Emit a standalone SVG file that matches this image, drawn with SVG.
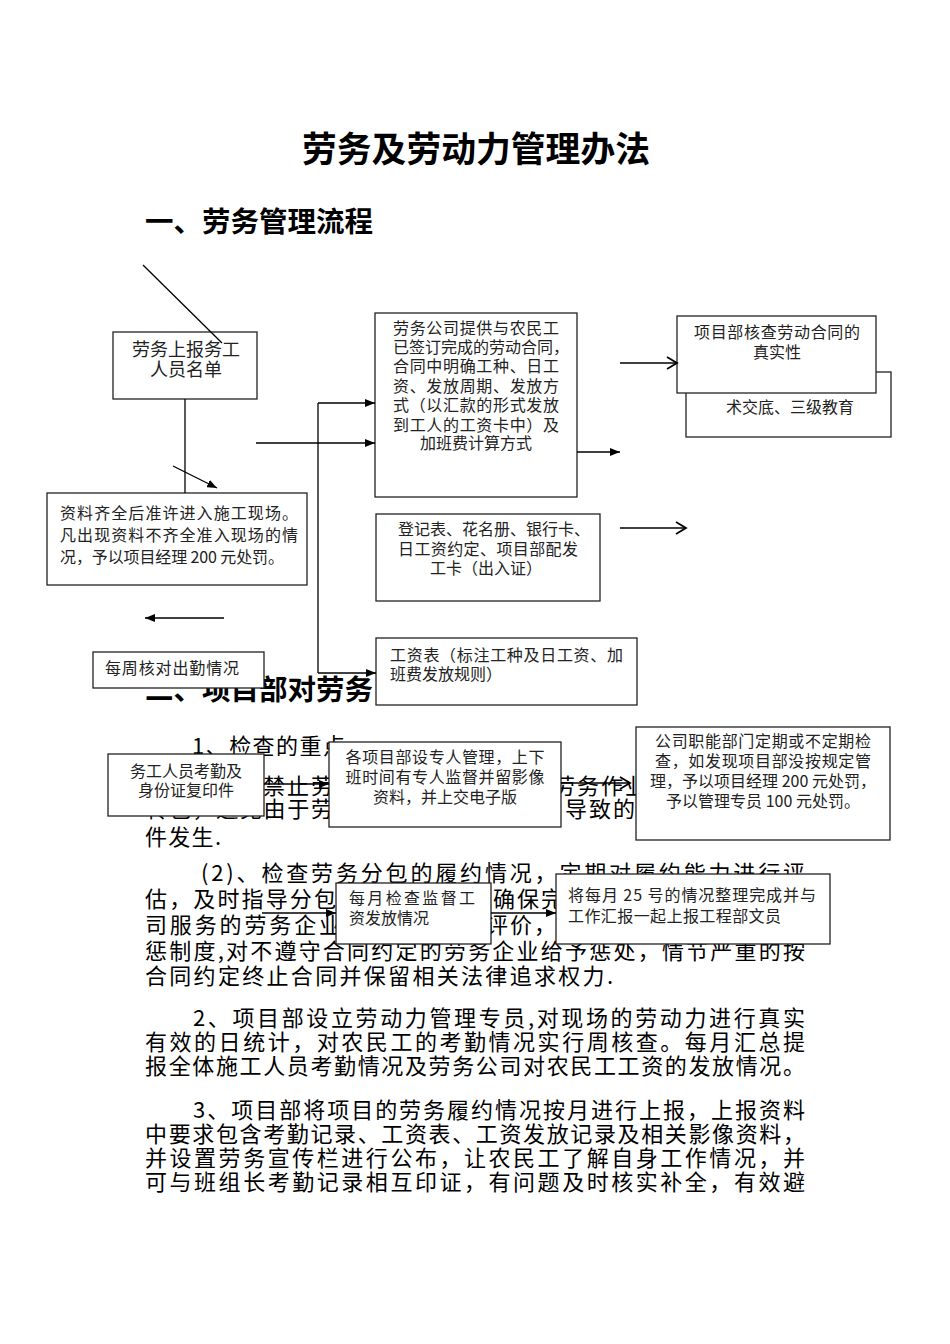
<svg xmlns="http://www.w3.org/2000/svg" width="950" height="1344" viewBox="0 0 950 1344">
<style>
text{font-family:"Noto Sans CJK SC","Noto Sans CJK JP",sans-serif;fill:#000}
.t{font-size:35px;font-weight:700}
.h{font-size:28px;font-weight:700}
.b{font-size:22px}
.n{font-size:16px;fill:#222}
.box{fill:#fff;stroke:#222;stroke-width:1.3}
.c{fill:none;stroke:#000;stroke-width:1.3}
.f{marker-end:url(#ah)}
.o{marker-end:url(#oh)}
</style>
<defs>
<marker id="ah" viewBox="0 0 10 8" refX="10" refY="4" markerWidth="10" markerHeight="8" markerUnits="userSpaceOnUse" orient="auto"><path d="M0,0 L10,4 L0,8 z" fill="#000"/></marker>
<marker id="oh" viewBox="0 0 10 12" refX="10" refY="6" markerWidth="10" markerHeight="12" markerUnits="userSpaceOnUse" orient="auto" overflow="visible"><path d="M0,0 L10,6 L0,12" fill="none" stroke="#000" stroke-width="1.8"/></marker>
</defs>
<rect width="950" height="1344" fill="#fff"/>

<g id="headings">
<text class="t" x="476" y="162" text-anchor="middle" textLength="348" lengthAdjust="spacingAndGlyphs">劳务及劳动力管理办法</text>
<text class="h" x="145" y="232" textLength="228" lengthAdjust="spacingAndGlyphs">一、劳务管理流程</text>
<text class="h" x="145" y="700" textLength="228" lengthAdjust="spacingAndGlyphs">二、项目部对劳务</text>
</g>

<g id="body-text">
<text class="b" x="192" y="754" textLength="153" lengthAdjust="spacing">1、检查的重点</text>
<text class="b" x="263" y="794" textLength="70" lengthAdjust="spacing">禁止劳</text>
<text class="b" x="553" y="794" textLength="94" lengthAdjust="spacing">劳务作业</text>
<text class="b" x="145" y="817" textLength="188" lengthAdjust="spacing">转包，避免由于劳</text>
<text class="b" x="565" y="817" textLength="70" lengthAdjust="spacing">导致的</text>
<text class="b" x="145" y="845" textLength="76" lengthAdjust="spacing">件发生.</text>
<text class="b" x="201" y="881" textLength="604" lengthAdjust="spacing">(2)、检查劳务分包的履约情况，定期对履约能力进行评</text>
<text class="b" x="145" y="907" textLength="191" lengthAdjust="spacing">估，及时指导分包</text>
<text class="b" x="493" y="907" textLength="70" lengthAdjust="spacing">确保完</text>
<text class="b" x="145" y="933" textLength="196" lengthAdjust="spacing">司服务的劳务企业</text>
<text class="b" x="486" y="933" textLength="70" lengthAdjust="spacing">评价，</text>
<text class="b" x="145" y="959" textLength="660" lengthAdjust="spacing">惩制度,对不遵守合同约定的劳务企业给予惩处，情节严重的按</text>
<text class="b" x="145" y="984" textLength="468" lengthAdjust="spacing">合同约定终止合同并保留相关法律追求权力.</text>
<text class="b" x="193" y="1026" textLength="612" lengthAdjust="spacing">2、项目部设立劳动力管理专员,对现场的劳动力进行真实</text>
<text class="b" x="145" y="1050" textLength="660" lengthAdjust="spacing">有效的日统计，对农民工的考勤情况实行周核查。每月汇总提</text>
<text class="b" x="145" y="1074" textLength="660" lengthAdjust="spacing">报全体施工人员考勤情况及劳务公司对农民工工资的发放情况。</text>
<text class="b" x="193" y="1118" textLength="612" lengthAdjust="spacing">3、项目部将项目的劳务履约情况按月进行上报，上报资料</text>
<text class="b" x="145" y="1142" textLength="660" lengthAdjust="spacing">中要求包含考勤记录、工资表、工资发放记录及相关影像资料，</text>
<text class="b" x="145" y="1166" textLength="660" lengthAdjust="spacing">并设置劳务宣传栏进行公布，让农民工了解自身工作情况，并</text>
<text class="b" x="145" y="1190" textLength="660" lengthAdjust="spacing">可与班组长考勤记录相互印证，有问题及时核实补全，有效避</text>
</g>

<g id="node-report">
<rect class="box" x="113" y="332" width="144" height="67"/>
<text class="n" x="186" y="356" text-anchor="middle" style="font-size:18px">劳务上报务工</text>
<text class="n" x="186" y="376" text-anchor="middle" style="font-size:18px">人员名单</text>
</g>
<g id="node-entry">
<rect class="box" x="47" y="493" width="260" height="92"/>
<text class="n" x="60" y="519" textLength="238" lengthAdjust="spacing">资料齐全后准许进入施工现场。</text>
<text class="n" x="60" y="541" textLength="238" lengthAdjust="spacing">凡出现资料不齐全准入现场的情</text>
<text class="n" x="60" y="563" textLength="224" lengthAdjust="spacing">况，予以项目经理 200 元处罚。</text>
</g>
<g id="node-contract">
<rect class="box" x="375" y="313" width="202" height="184"/>
<text class="n" x="393" y="334" textLength="166" lengthAdjust="spacing">劳务公司提供与农民工</text>
<text class="n" x="393" y="353" textLength="176" lengthAdjust="spacing">已签订完成的劳动合同，</text>
<text class="n" x="393" y="372" textLength="166" lengthAdjust="spacing">合同中明确工种、日工</text>
<text class="n" x="393" y="392" textLength="166" lengthAdjust="spacing">资、发放周期、发放方</text>
<text class="n" x="393" y="411" textLength="166" lengthAdjust="spacing">式（以汇款的形式发放</text>
<text class="n" x="393" y="431" textLength="166" lengthAdjust="spacing">到工人的工资卡中）及</text>
<text class="n" x="476" y="449" text-anchor="middle">加班费计算方式</text>
</g>
<g id="node-briefing">
<rect class="box" x="686" y="372" width="205" height="65"/>
<text class="n" x="790" y="413" text-anchor="middle">术交底、三级教育</text>
</g>
<g id="node-verify">
<rect class="box" x="677" y="316" width="199" height="77"/>
<text class="n" x="777" y="338" text-anchor="middle" textLength="166" lengthAdjust="spacing">项目部核查劳动合同的</text>
<text class="n" x="777" y="358" text-anchor="middle">真实性</text>
</g>
<g id="node-register">
<rect class="box" x="376" y="514" width="224" height="87"/>
<text class="n" x="398" y="535" textLength="192" lengthAdjust="spacing">登记表、花名册、银行卡、</text>
<text class="n" x="398" y="555" textLength="180" lengthAdjust="spacing">日工资约定、项目部配发</text>
<text class="n" x="486" y="574" text-anchor="middle">工卡（出入证）</text>
</g>
<g id="node-weekly">
<rect class="box" x="93" y="652" width="171" height="36"/>
<text class="n" x="105" y="674" textLength="134" lengthAdjust="spacing">每周核对出勤情况</text>
</g>
<g id="node-payroll">
<rect class="box" x="376" y="638" width="261" height="67"/>
<text class="n" x="390" y="661" textLength="233" lengthAdjust="spacing">工资表（标注工种及日工资、加</text>
<text class="n" x="390" y="680">班费发放规则）</text>
</g>
<g id="node-attendance">
<rect class="box" x="108" y="754" width="156" height="62"/>
<text class="n" x="186" y="777" text-anchor="middle">务工人员考勤及</text>
<text class="n" x="186" y="796" text-anchor="middle">身份证复印件</text>
</g>
<g id="node-supervise">
<rect class="box" x="329" y="742" width="232" height="85"/>
<text class="n" x="445" y="763" text-anchor="middle" textLength="199" lengthAdjust="spacing">各项目部设专人管理，上下</text>
<text class="n" x="445" y="783" text-anchor="middle" textLength="199" lengthAdjust="spacing">班时间有专人监督并留影像</text>
<text class="n" x="445" y="803" text-anchor="middle">资料，并上交电子版</text>
</g>
<g id="node-inspect">
<rect class="box" x="636" y="727" width="254" height="113"/>
<text class="n" x="763" y="747" text-anchor="middle" textLength="216" lengthAdjust="spacing">公司职能部门定期或不定期检</text>
<text class="n" x="763" y="767" text-anchor="middle" textLength="216" lengthAdjust="spacing">查，如发现项目部没按规定管</text>
<text class="n" x="763" y="787" text-anchor="middle">理，予以项目经理 200 元处罚，</text>
<text class="n" x="763" y="807" text-anchor="middle">予以管理专员 100 元处罚。</text>
</g>
<g id="node-monthly">
<rect class="box" x="336" y="883" width="155" height="61"/>
<text class="n" x="349" y="904" textLength="126" lengthAdjust="spacing">每月检查监督工</text>
<text class="n" x="349" y="924">资发放情况</text>
</g>
<g id="node-report25">
<rect class="box" x="556" y="874" width="274" height="70"/>
<text class="n" x="568" y="901" textLength="248" lengthAdjust="spacing">将每月 25 号的情况整理完成并与</text>
<text class="n" x="568" y="922" textLength="213" lengthAdjust="spacing">工作汇报一起上报工程部文员</text>
</g>

<g id="connectors">
<line class="c" x1="143" y1="265" x2="222" y2="343"/>
<line class="c" x1="185" y1="399" x2="185" y2="493"/>
<line class="c f" x1="173" y1="466" x2="217" y2="488"/>
<polyline class="c" points="318,673 318,403"/>
<line class="c f" x1="318" y1="403" x2="375" y2="403"/>
<line class="c f" x1="318" y1="673" x2="376" y2="673"/>
<line class="c f" x1="256" y1="443" x2="375" y2="443"/>
<line class="c f" x1="577" y1="452" x2="620" y2="452"/>
<line class="c o" x1="620" y1="363" x2="677" y2="363"/>
<line class="c o" x1="620" y1="528" x2="686" y2="528"/>
<line class="c f" x1="224" y1="618" x2="145" y2="618"/>
<line class="c f" x1="264" y1="784" x2="329" y2="784"/>
<line class="c o" x1="561" y1="783" x2="630" y2="783"/>
<line class="c f" x1="262" y1="913" x2="336" y2="913"/>
<line class="c f" x1="491" y1="913" x2="556" y2="913"/>
</g>
</svg>
